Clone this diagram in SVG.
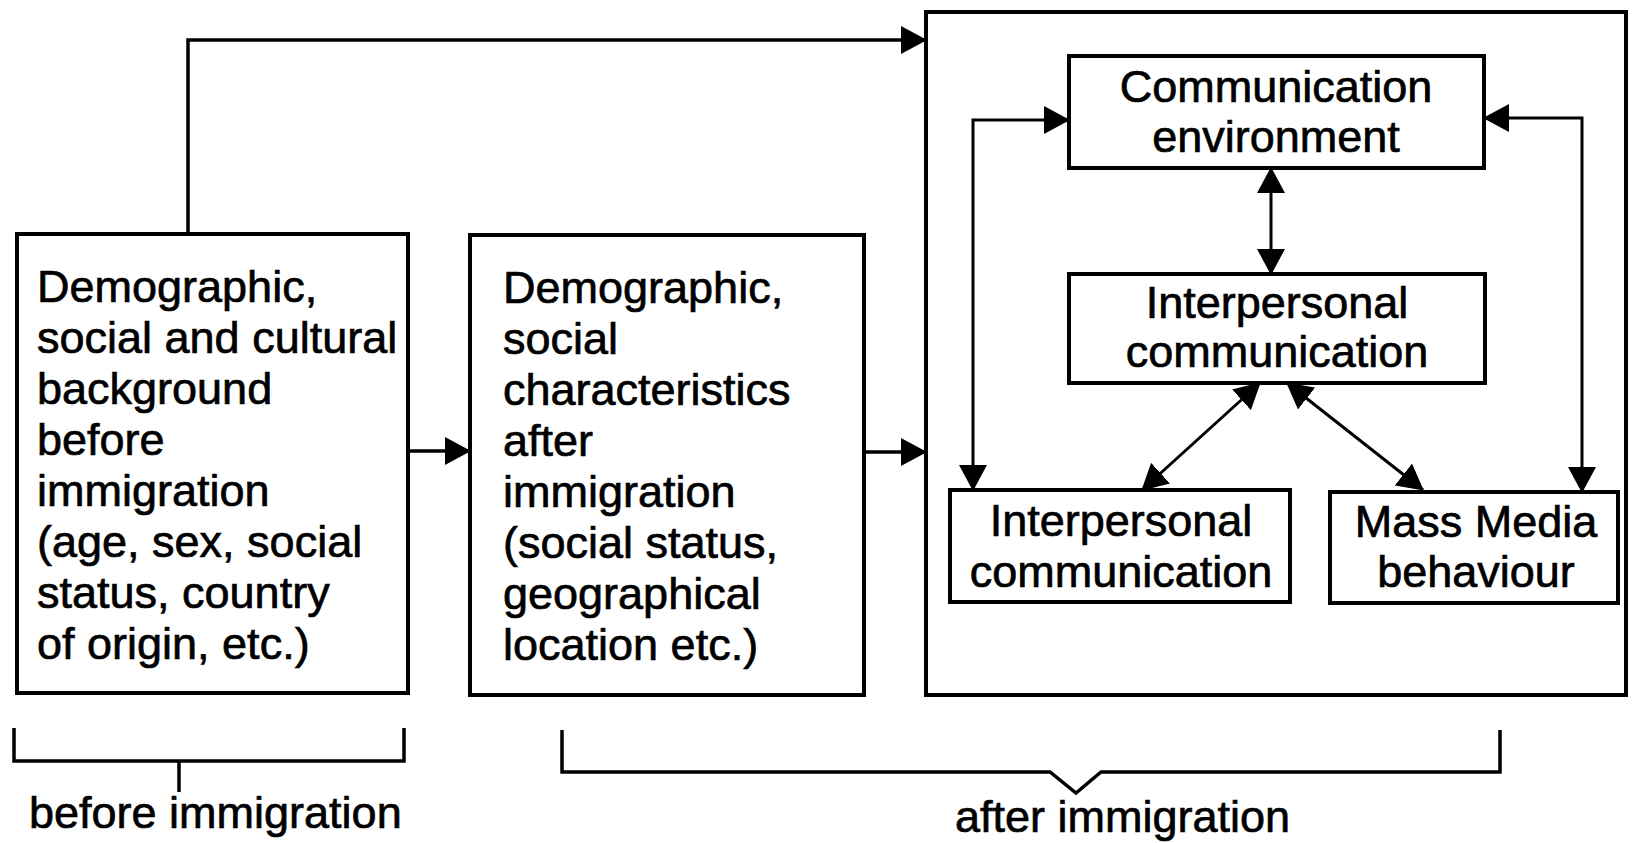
<svg xmlns="http://www.w3.org/2000/svg" width="1637" height="843" viewBox="0 0 1637 843">
  <style>
    .box { fill: #ffffff; stroke: #000000; stroke-width: 4; }
    .frame { fill: none; stroke: #000000; stroke-width: 4; }
    .line { fill: none; stroke: #000000; stroke-width: 3.5; }
    .thin { fill: none; stroke: #000000; stroke-width: 3; }
    .brace { fill: none; stroke: #000000; stroke-width: 3.5; stroke-linejoin: miter; }
    text { font-family: "Liberation Sans", Arial, sans-serif; font-size: 45px; fill: #000000; stroke: #000000; stroke-width: 0.7; }
    .mid { text-anchor: middle; }
  </style>
  <defs>
    <marker id="arrow" viewBox="0 0 26 28" refX="25" refY="14" markerWidth="26" markerHeight="28" markerUnits="userSpaceOnUse" orient="auto-start-reverse">
      <path d="M0,0 L26,14 L0,28 z" fill="#000000"/>
    </marker>
  </defs>

  <!-- outer frame for the after-immigration communication cluster -->
  <g id="after-frame">
    <rect class="frame" x="926" y="12" width="700" height="683"/>
  </g>

  <g id="before-background">
    <rect class="box" x="17" y="234" width="391" height="459"/>
    <text x="37" y="302">Demographic,</text>
    <text x="37" y="353">social and cultural</text>
    <text x="37" y="404">background</text>
    <text x="37" y="455">before</text>
    <text x="37" y="506">immigration</text>
    <text x="37" y="557">(age, sex, social</text>
    <text x="37" y="608">status, country</text>
    <text x="37" y="659">of origin, etc.)</text>
  </g>

  <g id="after-characteristics">
    <rect class="box" x="470" y="235" width="394" height="460"/>
    <text x="503" y="303">Demographic,</text>
    <text x="503" y="354">social</text>
    <text x="503" y="405">characteristics</text>
    <text x="503" y="456">after</text>
    <text x="503" y="507">immigration</text>
    <text x="503" y="558">(social status,</text>
    <text x="503" y="609">geographical</text>
    <text x="503" y="660">location etc.)</text>
  </g>

  <g id="communication-environment">
    <rect class="box" x="1069" y="56" width="415" height="112"/>
    <text class="mid" x="1276" y="102">Communication</text>
    <text class="mid" x="1276" y="152">environment</text>
  </g>

  <g id="interpersonal-centre">
    <rect class="box" x="1069" y="274" width="416" height="109"/>
    <text class="mid" x="1277" y="318">Interpersonal</text>
    <text class="mid" x="1277" y="367">communication</text>
  </g>

  <g id="interpersonal-left">
    <rect class="box" x="950" y="490" width="340" height="112"/>
    <text class="mid" x="1121" y="536">Interpersonal</text>
    <text class="mid" x="1121" y="587">communication</text>
  </g>

  <g id="mass-media">
    <rect class="box" x="1330" y="492" width="288" height="111"/>
    <text class="mid" x="1476" y="537">Mass Media</text>
    <text class="mid" x="1476" y="587">behaviour</text>
  </g>

  <g id="connectors">
    <path class="line" d="M188,234 V40 H926" marker-end="url(#arrow)"/>
    <path class="line" d="M408,451 H470" marker-end="url(#arrow)"/>
    <path class="line" d="M864,452 H926" marker-end="url(#arrow)"/>
    <path class="thin" d="M1069,120 H973 V490" marker-start="url(#arrow)" marker-end="url(#arrow)"/>
    <path class="thin" d="M1484,118 H1582 V492" marker-start="url(#arrow)" marker-end="url(#arrow)"/>
    <path class="thin" d="M1271,168 V274" marker-start="url(#arrow)" marker-end="url(#arrow)"/>
    <path class="thin" d="M1260,383 L1142,490" marker-start="url(#arrow)" marker-end="url(#arrow)"/>
    <path class="thin" d="M1287,383 L1423,490" marker-start="url(#arrow)" marker-end="url(#arrow)"/>
  </g>

  <g id="phase-brackets">
    <path class="brace" d="M14,728 V761 H404 V728"/>
    <path class="brace" d="M179,761 V792"/>
    <text x="29" y="828">before immigration</text>
    <path class="brace" d="M562,730 V772 H1050 L1076,793 L1101,772 H1500 V730"/>
    <text x="955" y="832">after immigration</text>
  </g>
</svg>
